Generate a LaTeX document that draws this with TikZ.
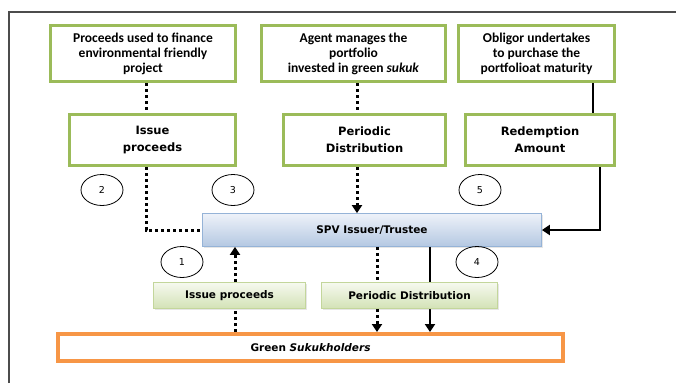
\documentclass[tikz,border=0pt]{standalone}
\usepackage{fontspec}
\setmainfont{Carlito}
\newfontfamily\verd{DejaVu Sans}
\usetikzlibrary{calc,arrows.meta,shadows,shapes.geometric}

\definecolor{olive}{HTML}{9BBB59}
\definecolor{orng}{HTML}{F79646}
\definecolor{spvtop}{HTML}{EEF2F9}
\definecolor{spvbot}{HTML}{B4C8E2}
\definecolor{spvline}{HTML}{95B3D7}
\definecolor{pgtop}{HTML}{F6F9EF}
\definecolor{pgbot}{HTML}{D3E2B6}
\definecolor{pgline}{HTML}{C3D69B}

\tikzset{
  topbox/.style={draw=olive, line width=3.2pt, fill=white, align=center,
    font=\bfseries\fontsize{13.5}{15}\selectfont, inner sep=0pt},
  midbox/.style={draw=olive, line width=3.2pt, fill=white, align=center,
    font=\verd\bfseries\fontsize{11.5}{17}\selectfont, inner sep=0pt},
  paybox/.style={draw=pgline, line width=0.8pt, top color=pgtop, bottom color=pgbot,
    font=\verd\bfseries\fontsize{10.5}{12}\selectfont, inner sep=0pt,
    drop shadow={opacity=0.2, shadow xshift=1pt, shadow yshift=-1pt}},
  stepno/.style={draw, ellipse, line width=0.8pt, minimum width=42pt, minimum height=31pt,
    inner sep=0pt, font=\verd\fontsize{9.5}{11}\selectfont},
  dotline/.style={line width=3pt, dash pattern=on 3pt off 3pt},
  solidline/.style={line width=2.8pt},
  tip/.style={-{Triangle[width=10pt,length=8pt]}}
}

\begin{document}
\begin{tikzpicture}[x=1pt,y=-1pt]
  \useasboundingbox (0,0) rectangle (676,383);
  % outer frame, only left and top edges show
  \draw[line width=1.5pt, black!70] (9,383) -- (9,12) -- (676,12);

  % x positions of the vertical connectors
  \coordinate (xa) at (146,0);
  \coordinate (xb) at (357,0);
  \coordinate (xc) at (593,0);
  \coordinate (xf) at (600,0);
  \coordinate (xip) at (235,0);
  \coordinate (xpd) at (377,0);
  \coordinate (xred) at (430,0);

  % top row
  \node[topbox, minimum width=185pt, minimum height=56pt] (finance) at (143,53.5)
    {Proceeds used to finance\\environmental friendly\\project};
  \node[topbox, minimum width=184pt, minimum height=56pt] (agent) at (353.5,53.5)
    {Agent manages the\\portfolio\\invested in green \textit{sukuk}};
  \node[topbox, minimum width=156pt, minimum height=56pt] (obligor) at (536.5,53.5)
    {Obligor undertakes\\to purchase the\\portfolioat maturity};

  % middle row
  \node[midbox, minimum width=166pt, minimum height=51pt] (issue) at (152.5,140)
    {Issue\\proceeds};
  \node[midbox, minimum width=162pt, minimum height=51pt] (periodic) at (364.5,140)
    {Periodic\\Distribution};
  \node[midbox, minimum width=149pt, minimum height=51pt] (redeem) at (540,140)
    {Redemption\\Amount};

  % issuer and holders
  \node[draw=spvline, line width=0.8pt, top color=spvtop, bottom color=spvbot,
    minimum width=339pt, minimum height=33pt, inner sep=0pt,
    font=\verd\bfseries\fontsize{10.5}{12}\selectfont,
    drop shadow={opacity=0.2, shadow xshift=1pt, shadow yshift=-1pt}]
    (spv) at (372,230) {SPV Issuer/Trustee};
  \node[draw=orng, line width=4pt, fill=white, minimum width=505pt, minimum height=27pt,
    inner sep=0pt, font=\verd\bfseries\fontsize{10.5}{12}\selectfont]
    (holders) at (310.5,347.5) {Green \textit{Sukukholders}};

  % redemption paid straight through, behind the payment box
  \draw[solidline, tip] (spv.south -| xred) -- (holders.north -| xred);

  % payment boxes
  \node[paybox, minimum width=152pt, minimum height=26pt] (payin) at (229.5,295.5)
    {Issue proceeds};
  \node[paybox, minimum width=176pt, minimum height=26pt] (payout) at (409.5,295.5)
    {Periodic Distribution};

  % step numbers
  \node[stepno] (s1) at (182,262) {1};
  \node[stepno] (s2) at (102,190) {2};
  \node[stepno] (s3) at (233,190) {3};
  \node[stepno] (s4) at (477,262) {4};
  \node[stepno] (s5) at (480,190) {5};

  % connectors
  \draw[dotline] (finance.south -| xa) -- (issue.north -| xa);
  \draw[dotline] (issue.south -| xa) |- (spv.west);
  \draw[dotline] (agent.south -| xb) -- (periodic.north -| xb);
  \draw[dotline, tip] (periodic.south -| xb) -- (spv.north -| xb);
  \draw[solidline] (obligor.south -| xc) -- (redeem.north -| xc);
  \draw[solidline, tip] (redeem.south -| xf) |- (spv.east);
  \draw[dotline] (holders.north -| xip) -- (payin.south -| xip);
  \draw[dotline, tip] (payin.north -| xip) -- (spv.south -| xip);
  \draw[dotline] (spv.south -| xpd) -- (payout.north -| xpd);
  \draw[dotline, tip] (payout.south -| xpd) -- (holders.north -| xpd);
\end{tikzpicture}
\end{document}
